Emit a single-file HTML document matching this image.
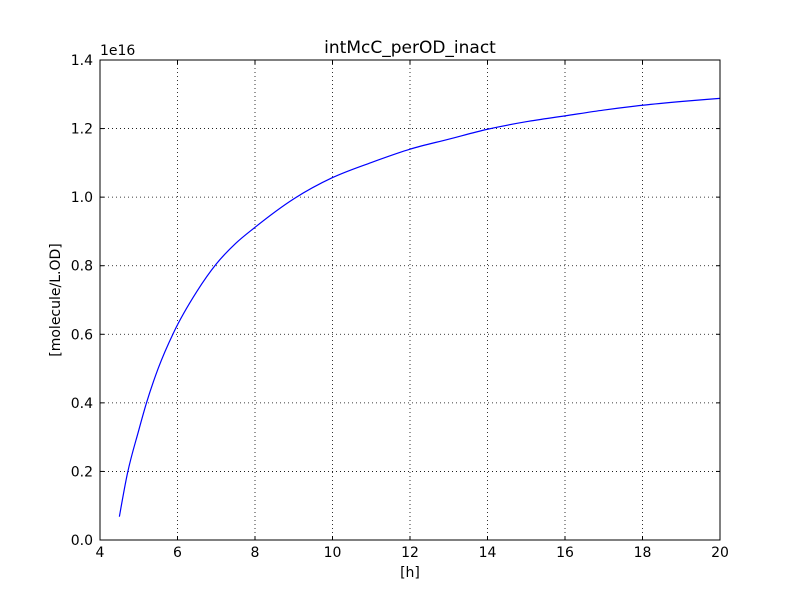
<!DOCTYPE html>
<html><head><meta charset="utf-8"><style>
body{margin:0;background:#fff;}
svg text{font-family:"DejaVu Sans","Liberation Sans",sans-serif;}
</style></head><body>
<svg width="800" height="600" xmlns="http://www.w3.org/2000/svg">
<rect width="800" height="600" fill="#fff"/>
<g id="grid"></g>
<g id="ticks"></g>
<path id="line" fill="none" stroke="#0000ff" stroke-width="1.2"/>
<rect x="100" y="60" width="620" height="480" fill="none" stroke="#000" stroke-width="1"/>
<text x="410" y="53" font-size="17" text-anchor="middle">intMcC_perOD_inact</text>
<text x="410" y="577" font-size="14" text-anchor="middle">[h]</text>
<text x="0" y="0" font-size="14" text-anchor="middle" transform="translate(60,300) rotate(-90)">[molecule/L.OD]</text>
<text x="100" y="55" font-size="14">1e16</text>
</svg>
<script>
const xTicks=[4,6,8,10,12,14,16,18,20];
const yTicks=[0,0.2,0.4,0.6,0.8,1.0,1.2,1.4];
const yTickLabels=["0.0","0.2","0.4","0.6","0.8","1.0","1.2","1.4"];
const xs=[4.5,4.7,5.0,5.2,5.5,5.9,6.5,7.0,7.5,8,9,10,11,12,13,14,15,16,17,18,19,20];
const ys=[0.068,0.19,0.32,0.40,0.50,0.605,0.725,0.805,0.865,0.912,0.995,1.057,1.101,1.14,1.169,1.198,1.22,1.237,1.254,1.268,1.279,1.288];
const X=v=>100+(v-4)/16*620, Y=v=>540-v/1.4*480;
const ns="http://www.w3.org/2000/svg";
const g=document.getElementById('grid'), t=document.getElementById('ticks');
function mk(tag,a,p){const e=document.createElementNS(ns,tag);for(const k in a)e.setAttribute(k,a[k]);p.appendChild(e);return e;}
xTicks.forEach(v=>{const x=X(v);
 const l=mk('line',{x1:x,x2:x,y1:60,y2:540,stroke:'#000','stroke-dasharray':'1,3','stroke-width':0.8},g);
 
 
 mk('line',{x1:x,x2:x,y1:540,y2:536,stroke:'#000'},t);
 mk('line',{x1:x,x2:x,y1:60,y2:64,stroke:'#000'},t);
 const tx=mk('text',{x:x,y:557,'font-size':14,'text-anchor':'middle'},t);tx.textContent=v;
 
 
});
yTicks.forEach((v,i)=>{const y=Y(v);
 const l=mk('line',{x1:100,x2:720,y1:y,y2:y,stroke:'#000','stroke-dasharray':'1,3','stroke-width':0.8},g);
 
 
 mk('line',{x1:100,x2:104,y1:y,y2:y,stroke:'#000'},t);
 mk('line',{x1:716,x2:720,y1:y,y2:y,stroke:'#000'},t);
 const tx=mk('text',{x:93,y:y+5,'font-size':14,'text-anchor':'end'},t);tx.textContent=yTickLabels[i];
 
 
});
// monotone cubic (non-uniform spacing aware)
const P=xs.map((v,i)=>[X(v),Y(ys[i])]);
const n=P.length, h=[], s=[], m=[];
for(let i=0;i<n-1;i++){h[i]=P[i+1][0]-P[i][0];s[i]=(P[i+1][1]-P[i][1])/h[i];}
m[0]=s[0]; m[n-1]=s[n-2];
for(let i=1;i<n-1;i++){
 if(s[i-1]*s[i]<=0){m[i]=0;continue;}
 const p=(s[i-1]*h[i]+s[i]*h[i-1])/(h[i-1]+h[i]);
 m[i]=(Math.sign(s[i-1])+Math.sign(s[i]))*Math.min(Math.abs(s[i-1]),Math.abs(s[i]),0.5*Math.abs(p));
}
m[0]=(3*s[0]-m[1])/2;
let d='M'+P[0][0]+','+P[0][1];
for(let i=0;i<n-1;i++){
 const dx=h[i]/3;
 d+=' C'+(P[i][0]+dx)+','+(P[i][1]+m[i]*dx)+' '+(P[i+1][0]-dx)+','+(P[i+1][1]-m[i+1]*dx)+' '+P[i+1][0]+','+P[i+1][1];
}
document.getElementById('line').setAttribute('d',d);
</script>
</body></html>
